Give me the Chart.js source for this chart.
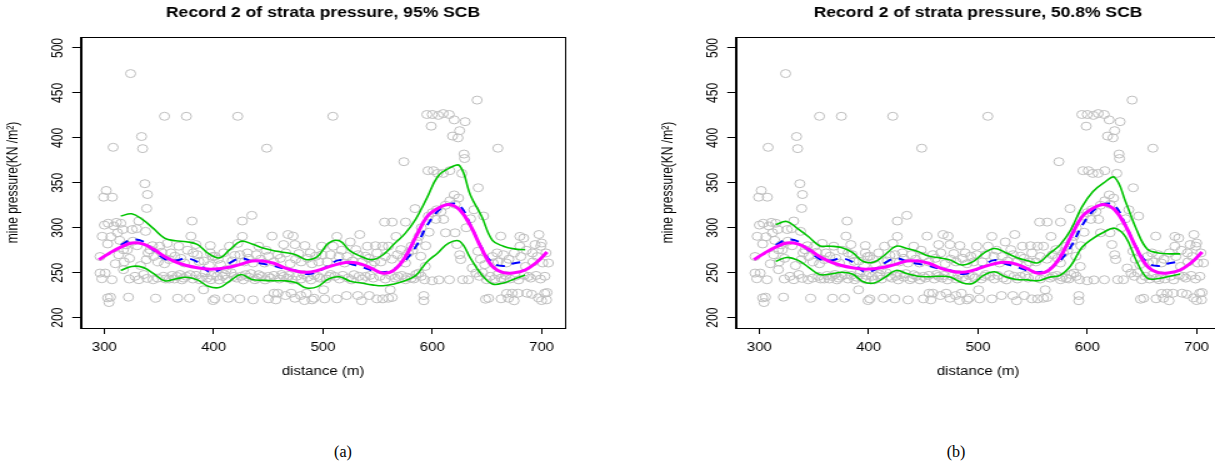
<!DOCTYPE html>
<html>
<head>
<meta charset="utf-8">
<script src="https://cdn.jsdelivr.net/npm/chart.js@4.4.1/dist/chart.umd.min.js"></script>
<style>
  html, body { margin: 0; padding: 0; background: #fff; overflow: hidden; }
  body { width: 1215px; height: 468px; position: relative; }
  .panel { position: absolute; top: 0; transform: scaleX(1.25); transform-origin: 0 0; }
  .cap { position: absolute; top: 452px; transform: translate(-50%, -50%);
         font-family: 'Liberation Serif', 'DejaVu Serif', serif; font-size: 16px; color: #000; }
</style>
</head>
<body>
<div class="panel" style="left:0px"><canvas id="chartA" width="486" height="400"></canvas></div>
<div class="panel" style="left:655px"><canvas id="chartB" width="486" height="400"></canvas></div>
<div class="cap" style="left:343px">(a)</div>
<div class="cap" style="left:956px">(b)</div>
<script>
// --- Dữ liệu ---
const X_MIN = 278.6, X_MAX = 721.4;
const Y_MIN = 188.5, Y_MAX = 512.2;
const xTicksStep = 100;
const yTicksStep = 50;

// quan trắc áp lực (distance, pressure) - dùng chung cho 2 hình
const observed = [
  [324,471.5],[355,424],[375,424],[422,424],[509,424],[308,389.5],[334,401.5],[335,388],[448.5,388.5],[574,373.5],[641,442],[660,388.5],
  [595,426],[600,426],[605.5,425],[610,427],[615.5,426],[599,413],[620,420],[630,418],[618.5,402],[623.5,400],[625,408],[629,382],[629.5,377],
  [596,363.5],[601,363.5],[605,360.5],[610,360.5],[616,363.5],[627,360.5],[642,344.5],[620,336.5],[624,333],
  [301.7,341.5],[299.3,334],[307.3,334],[337,349],[339.4,337],
  [296,268],[298,290.5],[303,282],[303.5,305],[308.7,302],[311,306],[312,294.5],[316.7,298],[314,286],[317.4,275.5],[321,275.5],[320,281],
  [325.5,298],[329.6,299],[331.4,307.5],[337.7,296],[341.8,275.5],[338.4,264.5],[338.7,321.5],
  [297.6,243.3],[296,249.6],[300.7,249.6],[307,242.2],[305.6,222.8],[304.2,216.8],[303,222],[322,222.8],[317.4,253.4],[322.7,243],[328,246],
  [331.4,242.2],[339,243.7],[344.6,242.2],[348.8,244],[347,221.6],
  [310,260],[313,270],[318,262],[323,266],[326,285],[330,280],[333,258],[336,248],[340,272],[345,268],[344,280],[349,262],[306,290],[300,303],[315,305],
  [350.6,279.5],[352.3,272.8],[357.5,282.6],[359.3,264.6],[364.5,268.3],[368,279.5],[373.2,260.8],[379.2,290.7],[380.2,307.5],[381.2,272],[383.7,281.3],[386.5,262.7],
  [359.3,243],[366.3,245.9],[372.5,244],[378.5,247.8],[387.2,242.2],[390.7,231],[367,221.6],[377.8,221.6],
  [354,246],[356,243],[362,247],[364,243],[369,248],[371,242],[375,246],[381,243],[384,247],[389,245],[392,250],[394,244],[398,247],
  [355,260],[361,272],[370,266],[376,275],[385,270],[391,263],[396,258],[399,268],
  [396.9,280.2],[396.9,272],[401,268.3],[406.3,259],[411.6,253.4],[414.4,279.5],[419.3,269],[422,282.6],[426.2,290.4],[426.2,307.5],[434.9,313.8],
  [430.8,272],[436,260.8],[441.2,279.5],[446.5,260.8],[450,268.3],
  [397.6,242.2],[401,220.9],[399.4,219],[408.1,245.9],[413.3,221.6],[423.8,220.9],[418.6,245.9],[429,247.8],[437.7,242.2],[441.2,247.8],[436,219.8],[450,220.9],[450,245.9],
  [403,246],[405,242],[410,248],[412,243],[416,250],[421,244],[425,246],[427,242],[432,245],[434,249],[440,244],[444,246],[447,242],
  [404,265],[409,272],[417,263],[424,270],[428,262],[432,266],[439,270],[443,265],[448,275],
  [453.4,290.7],[458.7,270.1],[463.9,281.3],[468,292.5],[472.6,290.7],[474.3,281.3],[477.8,271.3],[483.4,280.2],[488.3,272],[493.5,268.3],[498.8,279.5],
  [455.2,227.2],[458.7,227.2],[456.9,219.8],[465.6,224.6],[463.9,245.9],[470.9,227.2],[474.3,221.6],[479.6,224.6],[483,219],[484.8,227.2],[490,219.8],
  [491.8,221.6],[501.5,220.9],[500.5,231],[495.3,245.9],
  [452,244],[455,247],[460,243],[462,248],[467,244],[469,247],[472,242],[476,246],[480,243],[482,248],[486,245],[489,242],[492,247],[497,244],
  [455,262],[461,266],[466,272],[470,260],[475,265],[480,262],[486,266],[490,260],[496,262],[499,270],
  [509.2,279.5],[512.7,290.4],[514.5,268.3],[519.7,260.8],[524.9,284.2],[530.1,275.7],[533.6,292.5],[538.9,268.3],[540.6,279.5],[544.1,259],[549.3,272],
  [505.7,245.9],[510.9,245.9],[512.7,220.9],[521.5,224.6],[528.4,247.8],[531.8,224.6],[535.3,218.8],[538.9,245.9],[542.3,224.6],[549.3,220.9],
  [503,243],[507,248],[515,243],[518,247],[523,244],[526,242],[533,246],[536,243],[543,247],[546,244],
  [504,262],[507,270],[517,275],[522,268],[527,263],[532,270],[536,262],[542,266],[547,262],[548,280],
  [554.6,279.5],[556.3,306.3],[559.8,279.5],[563.3,306.3],[566.8,290.4],[571.3,275.7],[575.5,306.3],[575.5,260.8],[580.8,279.5],[584.2,321.3],[587.7,290.4],[589.5,268.3],
  [554.6,220.9],[559.8,221.6],[563.3,222.5],[561.5,231],[568.5,245.9],[575.5,242.2],[580.8,244],[587.7,249.6],
  [592.2,224.6],[592.2,218.8],[592.9,242.2],[593.6,257],[596.4,313],[599.9,316.8],[603.3,309.3],[610.3,309.3],[612.1,294.4],
  [552,246],[557,243],[562,247],[566,244],[572,247],[577,245],[583,243],[585,248],[590,246],
  [553,262],[557,268],[563,265],[568,270],[573,266],[578,272],[582,275],[586,285],[590,300],[594,280],[597,295],
  [615.6,242.2],[620.8,294.4],[626,264.6],[622.5,281.3],[627.8,242.2],[633,242.2],[636.5,255.2],[640,249.6],[641.7,273.9],[646.9,313],[648,259],
  [649.7,242.2],[648.7,220.5],[651.5,221.6],
  [604,320],[608,318],[612,325],[616,330],[621,326],[606,242],[631,300],[635,310],[638,320],[644,265],[643,246],[646,250],[600,241],[625,270],
  [655.6,260.8],[659.2,272],[662.6,290.7],[665.4,242.2],[667.8,260.8],[669.6,221.6],[673.1,227.2],[674.8,218.8],[678.3,227.2],[680.1,290.4],[680.1,279.5],
  [683.6,288.5],[685.3,257],[688.1,245.9],[691.6,272],[694,281.3],[697.5,292.5],[699.3,279.5],[701,260.8],[702.8,227.2],[704.5,219.8],[706.2,260.8],[686.7,227.2],
  [653,246],[657,243],[660,248],[663,244],[667,247],[671,243],[676,246],[679,242],[684,247],[690,244],[695,247],[699,243],[703,246],
  [655,268],[660,262],[665,270],[670,265],[675,272],[681,268],[686,275],[692,262],[696,268],[700,283],[704,272],
  [691,226],[697,222],[700,219],[705,228],[663,221],[668,227]
];

// đường ước lượng (hồng)
const fitDist = [295,305,315,325,335,345,355,365,375,385,395,405,415,425,435,445,455,465,475,485,495,
                 505,515,525,535,545,555,565,575,585,595,605,615,625,635,645,655,665,675,685,695,705];
const fitPress = [264.5,272,278.5,283,282,276,268,262,258,255.5,254,254.5,256.3,259.5,263,263,260.5,255.5,252,250.4,252.5,
                  256.5,260,261.5,259.5,254.5,249.5,253,267,290,312,321.5,326,320,302,277,257,250,250,253,261,273];

// đường thật (xanh dương, nét đứt)
const trueDist = [315,325,335,345,355,365,375,385,395,405,415,425,435,445,455,465,475,485,495,
                  505,515,525,535,545,555,565,575,585,595,605,615,625,635,645,655,665,675,685];
const truePress = [281,286.5,285,275,265.5,263.5,266,262,251.5,253,261,266,262.5,260,257.5,254.5,252.5,248.5,251,
                   258,264,260,256.5,252.5,250.5,254,263.5,279,302,318.5,326.5,324.5,303,278,261,257.5,260.5,262.5];

// dải tin cậy (xanh lá)
const bandDist = trueDist;
const upperA = [313,315.5,309,299,288.5,285.5,284.5,281.5,271.5,266.5,276,285,282,277.5,274.5,272.5,270,264.5,268,
                283,285.5,274,268,264.5,270,282,293.5,310,333,357,366,369,336,313,286,279.5,276.5,275.5];
const lowerA = [252.5,257,256,249,241,243,245,242,235,233.5,241,248,242.5,241.5,241,241,239,233,234.5,
                243,245.5,240.5,238.5,236.5,235.5,237.5,241,247,262,272,283,285,266,248,237.5,238.5,243,247.5];
const upperB = [303.5,307,299,290,280,279.5,278,272.5,262.5,262,270,279.5,277,273.5,268.5,266.5,264,258.5,262,
                271.5,277,272.5,267,263.5,261,271,281,298,323,340,350,356,329,298,276,272,271,271];
const lowerB = [262.5,267,264,256,248,248.5,250.5,248.5,240,238.5,245,252.5,249,246,245.5,246,245,239,238,
                247,251,245.5,242.5,242,241,245,247,258,278,288,295,299.5,290,263,244,243.5,246,248.5];

Chart.defaults.font.family = "'Liberation Sans', Arial, Helvetica, sans-serif";
Chart.defaults.font.size = 12;
Chart.defaults.color = '#000';

// khung hộp quanh vùng vẽ (giống R)
const frameBox = {
  id: 'frameBox',
  afterDatasetsDraw(chart) {
    const a = chart.chartArea;
    const ctx = chart.ctx;
    ctx.save();
    ctx.strokeStyle = '#000';
    ctx.lineWidth = 1;
    ctx.strokeRect(Math.round(a.left) + 0.5, Math.round(a.top) + 0.5,
                   Math.round(a.right - a.left), Math.round(a.bottom - a.top));
    ctx.restore();
  }
};

// căn tiêu đề vào giữa vùng vẽ thay vì giữa cả canvas
const centerTitle = {
  id: 'centerTitle',
  afterLayout(chart) {
    const t = chart.titleBlock;
    if (!t) return;
    t.left = chart.chartArea.left;
    t.right = chart.chartArea.right;
    t.width = t.right - t.left;
  }
};

function toXY(xs, ys) {
  return xs.map((x, i) => ({ x: x, y: ys[i] }));
}

function buildPanel(canvasId, titleText, upper, lower) {
  const ctx = document.getElementById(canvasId).getContext('2d');
  const lineBase = { type: 'line', pointRadius: 0, tension: 0.4, fill: false };
  return new Chart(ctx, {
    type: 'scatter',
    data: {
      datasets: [
        { label: 'obs', data: observed.map(p => ({ x: p[0], y: p[1] })), order: 5,
          pointStyle: 'circle', pointRadius: 4, borderWidth: 1,
          borderColor: '#bebebe', backgroundColor: 'rgba(0,0,0,0)' },
        Object.assign({ label: 'upper', data: toXY(bandDist, upper), order: 4,
          borderColor: '#00c400', borderWidth: 1.6 }, lineBase),
        Object.assign({ label: 'lower', data: toXY(bandDist, lower), order: 3,
          borderColor: '#00c400', borderWidth: 1.6 }, lineBase),
        Object.assign({ label: 'true', data: toXY(trueDist, truePress), order: 2,
          borderColor: '#0000ff', borderWidth: 2, borderDash: [7, 6] }, lineBase),
        Object.assign({ label: 'fit', data: toXY(fitDist, fitPress), order: 1,
          borderColor: '#ff00ff', borderWidth: 3 }, lineBase)
      ]
    },
    options: {
      responsive: false,
      animation: false,
      events: [],
      layout: { padding: { left: 0, right: 34, top: 0, bottom: 0 } },
      plugins: {
        legend: { display: false },
        tooltip: { enabled: false },
        title: {
          display: true, text: titleText, color: '#000',
          font: { size: 14, weight: 'bold' },
          padding: { top: 4.5, bottom: 15.7 }
        }
      },
      scales: {
        x: {
          type: 'linear', min: X_MIN, max: X_MAX,
          afterFit(scale) { scale.height = 72; },
          ticks: { stepSize: xTicksStep, includeBounds: false, maxRotation: 0, minRotation: 0,
                   autoSkip: false, padding: 6.5, color: '#000' },
          grid: { drawOnChartArea: false, drawTicks: true, tickLength: 6, color: '#000' },
          border: { display: true, color: '#000' },
          title: { display: true, text: 'distance (m)', color: '#000', font: { size: 12 },
                   padding: { top: 0, bottom: 21 } }
        },
        y: {
          type: 'linear', min: Y_MIN, max: Y_MAX,
          afterFit(scale) { scale.width = 64.8; },
          ticks: { stepSize: yTicksStep, includeBounds: false, minRotation: 90, maxRotation: 90,
                   crossAlign: 'center', autoSkip: false, padding: 1, color: '#000' },
          grid: { drawOnChartArea: false, drawTicks: true, tickLength: 7, color: '#000' },
          border: { display: true, color: '#000' },
          title: { display: true, text: 'mine pressure(KN /m²)', color: '#000', font: { size: 12 },
                   padding: { top: 3.5, bottom: 0 } }
        }
      }
    },
    plugins: [frameBox, centerTitle]
  });
}

buildPanel('chartA', 'Record 2 of strata pressure, 95% SCB', upperA, lowerA);
buildPanel('chartB', 'Record 2 of strata pressure, 50.8% SCB', upperB, lowerB);
</script>
</body>
</html>
